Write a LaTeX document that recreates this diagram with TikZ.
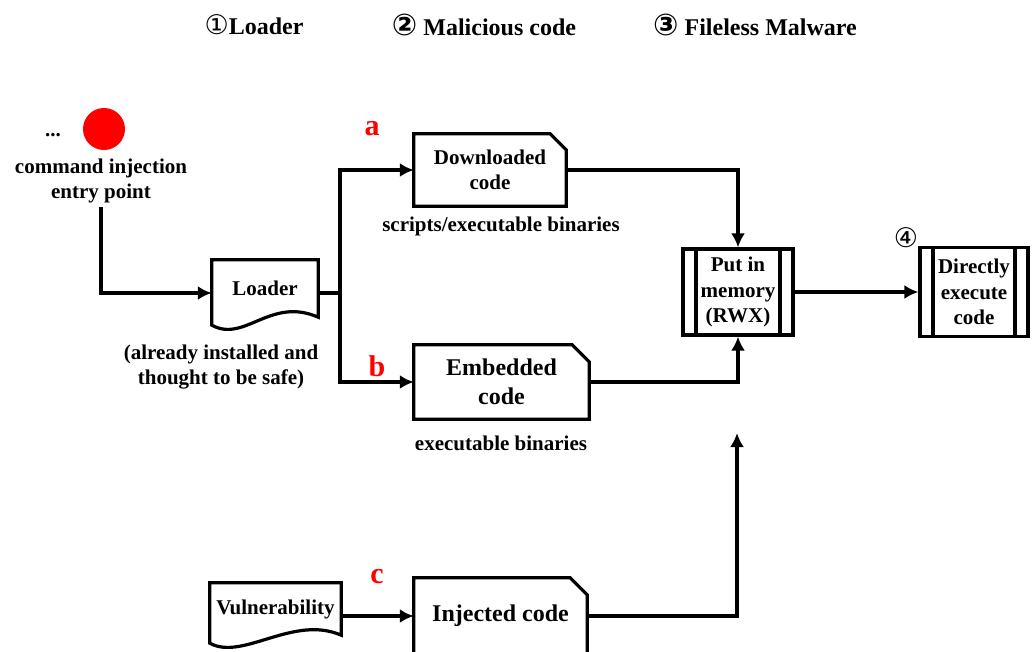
\documentclass[tikz,border=0pt]{standalone}
\usepackage{fontspec}
\setmainfont{Liberation Serif}
\newfontfamily\circfont{DejaVu Sans}
\usetikzlibrary{positioning,arrows.meta}

% contorno con la esquina cortada
\newcommand\chaflan[2][16pt]{%
  \draw[borde] (#2.south west) -- (#2.north west) -- ([xshift=-#1]#2.north east)
    -- ([yshift=-#1]#2.north east) -- (#2.south east) -- cycle;}
% contorno de documento (borde inferior ondulado)
\newcommand\documento[1]{%
  \draw[borde] (#1.north west) -- (#1.north east) -- (#1.south east)
    .. controls +(-48,-21) and +(33,18) .. ([yshift=-8pt]#1.south west) -- cycle;}

\begin{document}
\begin{tikzpicture}[x=1pt,y=-1pt,
    borde/.style={line width=3.2pt},
    texto/.style={font=\fontsize{21}{25.5}\selectfont\bfseries,align=center},
    grande/.style={font=\fontsize{24}{29}\selectfont\bfseries,align=center},
    caja/.style={inner sep=0pt},
    proceso/.style={draw,borde,inner sep=0pt,
      path picture={\draw[borde]
        ([xshift=13pt]path picture bounding box.north west) -- ([xshift=13pt]path picture bounding box.south west)
        ([xshift=-13pt]path picture bounding box.north east) -- ([xshift=-13pt]path picture bounding box.south east);}},
    letra/.style={text=red,font=\fontsize{30}{30}\selectfont\bfseries}]
  \useasboundingbox (0,0) rectangle (1035,651);

  % titulo
  \begin{scope}[font=\fontsize{24}{24}\selectfont\bfseries]
    \node (t1) at (254,25) {{\circfont\mdseries\fontsize{27}{27}\selectfont ①}Loader};
    \node (t2) at (484,25) {{\circfont\fontsize{30}{30}\selectfont ②} Malicious code};
    \node (t3) at (755,25) {{\circfont\fontsize{30}{30}\selectfont ③} Fileless Malware};
  \end{scope}

  % punto de entrada
  \node[circle,fill=red,minimum size=42pt,inner sep=0pt] (punto) at (104,129) {};
  \node[texto] (puntos) at (53,135) {...};
  \node[texto] (entrada) at (101,181) {command injection\\entry point};

  % cajas
  \node[texto,caja,minimum width=106pt,minimum height=57pt] (loader) at (265,288.5) {Loader};
  \documento{loader}
  \node[texto] (nota) at (221,367) {(already installed and\\thought to be safe)};

  \node[texto,caja,minimum width=152pt,minimum height=72pt] (desc) at (490,170) {Downloaded\\code};
  \chaflan{desc}
  \node[texto] (sub1) at (501,226) {scripts/executable binaries};

  \node[grande,caja,minimum width=175pt,minimum height=74pt] (emb) at (501.5,382) {Embedded\\code};
  \chaflan[17pt]{emb}
  \node[texto] (sub2) at (501,443) {executable binaries};

  \node[texto,caja,minimum width=131pt,minimum height=52pt] (vul) at (275.5,609) {Vulnerability};
  \documento{vul}
  \node[grande,caja,minimum width=173pt,minimum height=76pt] (iny) at (500.5,616) {Injected code};
  \chaflan[17pt]{iny}

  \node[texto,proceso,minimum width=110pt,minimum height=86pt] (mem) at (738,292) {Put in\\memory\\(RWX)};
  \node[texto,proceso,minimum width=108pt,minimum height=89pt] (exe) at (974,292) {Directly\\execute\\code};
  \node[font=\circfont\fontsize{27}{27}\selectfont] (n4) at (906,238) {④};

  % letras de las ramas
  \node[letra] (la) at (372,129) {a};
  \node[letra] (lb) at (377,366) {b};
  \node[letra] (lc) at (377,577) {c};

  % flechas
  \coordinate (rama) at (340,293);
  \coordinate (memin) at (737,433);
  \begin{scope}[->,>={Latex[length=14pt,width=14pt]},borde]
    \draw (entrada.south) |- ([yshift=-4.5pt]loader.west);
    \draw[-] (loader.east |- rama) -- (rama);
    \draw (rama) |- (desc.west);
    \draw (rama) |- (emb.west);
    \draw (desc.east) -| (mem.north);
    \draw (emb.east) -| (mem.south);
    \draw (mem.east) -- (exe.west);
    \draw (vul.east |- iny.west) -- (iny.west);
    \draw (iny.east) -| (memin);
  \end{scope}
\end{tikzpicture}
\end{document}
